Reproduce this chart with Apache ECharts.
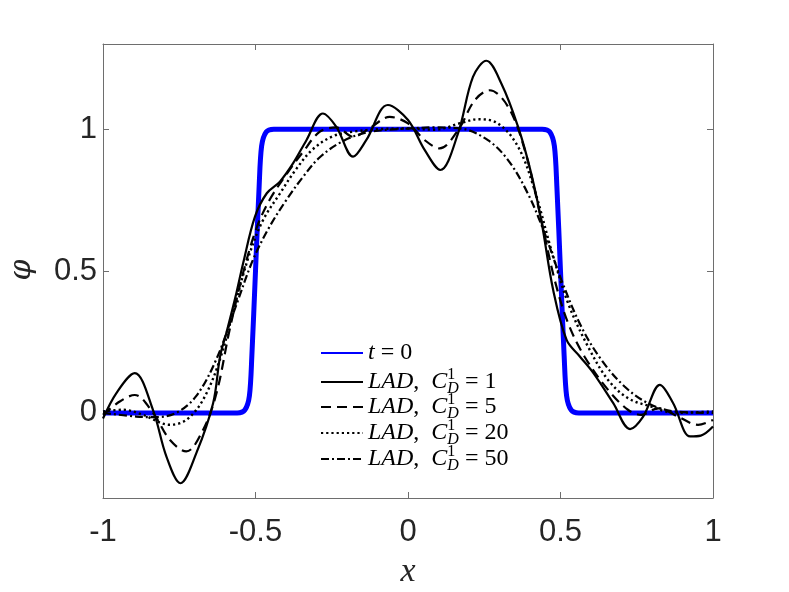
<!DOCTYPE html>
<html><head><meta charset="utf-8">
<script src="https://cdn.jsdelivr.net/npm/echarts@6/dist/echarts.min.js"></script>
<style>html,body{margin:0;padding:0;background:#fff}#c{width:789px;height:592px}</style>
</head><body><div id="c"></div>
<script>
const xTicks = [-1, -0.5, 0, 0.5, 1];
const yTicks = [0, 0.5, 1];
const seriesNames = ['t0', 'LAD1', 'LAD5', 'LAD20', 'LAD50'];
const cdValues = ['', '1', '5', '20', '50'];
const yName = 'φ';

const t0Data = [[-1,0],[-0.56,0],[-0.535,0.01],[-0.52,0.06],[-0.512,0.2],[-0.5,0.5],[-0.488,0.8],[-0.48,0.94],[-0.465,0.99],[-0.44,1],
  [0.44,1],[0.465,0.99],[0.48,0.94],[0.488,0.8],[0.5,0.5],[0.512,0.2],[0.52,0.06],[0.535,0.01],[0.56,0],[1,0]];

const lad1 = [[-1,-0.02],[-0.956,0.07],[-0.896,0.14],[-0.836,0.01],[-0.792,-0.154],[-0.746,-0.248],[-0.694,-0.142],[-0.639,0.034],
  [-0.616,0.2],[-0.596,0.28],[-0.563,0.421],[-0.54,0.53],[-0.502,0.691],[-0.463,0.774],[-0.42,0.815],[-0.377,0.879],[-0.333,0.961],
  [-0.279,1.055],[-0.235,1.008],[-0.18,0.903],[-0.137,0.961],[-0.066,1.085],[0,1.032],[0.055,0.926],[0.106,0.856],[0.164,0.985],
  [0.213,1.184],[0.257,1.241],[0.306,1.161],[0.361,1.008],[0.404,0.844],[0.438,0.672],[0.476,0.433],[0.52,0.257],[0.564,0.198],
  [0.608,0.14],[0.673,0.034],[0.728,-0.057],[0.771,-0.013],[0.826,0.099],[0.869,0.035],[0.925,-0.083],[0.96,-0.08],[1,-0.048]];

const lad5 = [[-1,-0.007],[-0.945,0.04],[-0.896,0.063],[-0.836,0],[-0.781,-0.095],[-0.727,-0.136],[-0.672,-0.06],[-0.628,0.069],
  [-0.585,0.292],[-0.541,0.492],[-0.497,0.65],[-0.454,0.75],[-0.399,0.84],[-0.344,0.92],[-0.29,0.99],[-0.235,1.006],[-0.18,0.973],
  [-0.126,1.003],[-0.06,1.043],[0,1.02],[0.055,0.961],[0.104,0.932],[0.164,0.996],[0.219,1.102],[0.268,1.137],[0.328,1.079],
  [0.383,0.926],[0.437,0.68],[0.481,0.468],[0.525,0.316],[0.579,0.198],[0.656,0.081],[0.721,0.011],[0.765,-0.007],[0.82,0.016],
  [0.885,-0.013],[0.951,-0.042],[1,-0.025]];

const lad20 = [[-1,0.005],[-0.934,0.011],[-0.869,-0.007],[-0.781,-0.042],[-0.727,-0.025],[-0.672,0.046],[-0.617,0.187],[-0.563,0.398],
  [-0.519,0.562],[-0.475,0.68],[-0.42,0.773],[-0.366,0.86],[-0.311,0.93],[-0.246,0.975],[-0.18,0.991],[-0.093,1.0],[0,1.002],
  [0.087,0.998],[0.175,1.022],[0.23,1.035],[0.295,1.02],[0.361,0.938],[0.415,0.785],[0.47,0.574],[0.525,0.386],[0.59,0.234],
  [0.656,0.116],[0.721,0.052],[0.798,0.022],[0.874,0],[1,0.005]];

const lad50 = [[-1,0],[-0.891,-0.013],[-0.825,-0.015],[-0.76,0.0],[-0.694,0.06],[-0.628,0.19],[-0.563,0.38],[-0.508,0.54],
  [-0.454,0.656],[-0.399,0.75],[-0.344,0.832],[-0.29,0.9],[-0.213,0.958],[-0.126,0.99],[0,1.002],[0.087,1.006],[0.175,1.002],
  [0.262,0.961],[0.328,0.891],[0.393,0.773],[0.448,0.633],[0.503,0.468],[0.568,0.304],[0.634,0.187],[0.71,0.093],[0.787,0.034],
  [0.874,0.005],[1,0]];

const dataList = [t0Data, lad1, lad5, lad20, lad50];
const lineColors = ['#0000ff', '#000', '#000', '#000', '#000'];
const lineWidths = [5, 2.2, 2.2, 2.4, 2.2];
const lineTypes = ['solid', 'solid', [10, 6], [2.2, 3], [8, 3, 2, 3]];

const axisColor = '#6e6e6e';
const labelColor = '#262626';
const serif = 'Liberation Serif, DejaVu Serif, serif';
const sans = 'Liberation Sans, Arial, sans-serif';

const chart = echarts.init(document.getElementById('c'));

const legendRows = [356, 382, 407, 433, 459];
const legends = seriesNames.map((n, i) => ({
  data: [n], orient: 'vertical', left: 320, top: legendRows[i] - 15, padding: 0,
  itemWidth: 42, itemHeight: 14, selectedMode: false,
  itemStyle: {opacity: 0, borderWidth: 0},
  formatter: function (name) {
    const k = seriesNames.indexOf(name);
    if (k === 0) return '{i|t}{r| = 0}';
    return '{i|LAD}{r|,  }{i|C}{sup|1}{sub|D}{r| = ' + cdValues[k] + '}';
  },
  textStyle: {
    color: '#000',
    rich: {
      i: {fontFamily: serif, fontStyle: 'italic', fontSize: 24, lineHeight: 30, verticalAlign: 'middle', color: '#000'},
      r: {fontFamily: serif, fontSize: 24, lineHeight: 30, verticalAlign: 'middle', color: '#000'},
      sup: {fontFamily: serif, fontSize: 16, lineHeight: 15, verticalAlign: 'top', width: 0, color: '#000'},
      sub: {fontFamily: serif, fontStyle: 'italic', fontSize: 16, lineHeight: 15, verticalAlign: 'bottom', color: '#000'}
    }
  }
}));

const option = {
  animation: false,
  backgroundColor: '#fff',
  grid: {left: 103, right: 76, top: 44, bottom: 94, containLabel: false, outerBoundsMode: 'none'},
  legend: legends,
  graphic: [{
    type: 'text', x: 22, y: 270, rotation: Math.PI / 2,
    style: {text: yName, font: 'italic 30px DejaVu Serif, serif', fill: labelColor, align: 'center', verticalAlign: 'middle'}
  }],
  xAxis: [{
    type: 'value', min: -1, max: 1, interval: 0.5,
    name: 'x', nameLocation: 'middle', nameGap: 57,
    nameTextStyle: {fontFamily: serif, fontStyle: 'italic', fontSize: 34, color: labelColor},
    axisLine: {show: true, onZero: false, lineStyle: {color: axisColor, width: 1}},
    axisTick: {show: true, inside: true, length: 6, lineStyle: {color: axisColor}, customValues: xTicks},
    axisLabel: {show: true, margin: 19, fontFamily: sans, fontSize: 31, color: labelColor,
      showMinLabel: true, showMaxLabel: true, customValues: xTicks},
    splitLine: {show: false}
  }, {
    type: 'value', min: -1, max: 1, interval: 0.5, position: 'top',
    axisLine: {show: true, onZero: false, lineStyle: {color: axisColor, width: 1}},
    axisTick: {show: true, inside: true, length: 6, lineStyle: {color: axisColor}, customValues: xTicks},
    axisLabel: {show: false}, splitLine: {show: false}
  }],
  yAxis: [{
    type: 'value', min: -0.3, max: 1.3,
    axisLine: {show: true, onZero: false, lineStyle: {color: axisColor, width: 1}},
    axisTick: {show: true, inside: true, length: 6, lineStyle: {color: axisColor}, customValues: yTicks},
    axisLabel: {show: true, margin: 6, fontFamily: sans, fontSize: 31, color: labelColor,
      customValues: yTicks},
    splitLine: {show: false}
  }, {
    type: 'value', min: -0.3, max: 1.3, position: 'right',
    axisLine: {show: true, onZero: false, lineStyle: {color: axisColor, width: 1}},
    axisTick: {show: true, inside: true, length: 6, lineStyle: {color: axisColor}, customValues: yTicks},
    axisLabel: {show: false}, splitLine: {show: false}
  }],
  series: seriesNames.map((n, i) => ({
    name: n, type: 'line', data: dataList[i], xAxisIndex: 0, yAxisIndex: 0,
    symbol: 'circle', showSymbol: false, smooth: i === 0 ? 0.3 : 0.35,
    lineStyle: {color: lineColors[i], width: lineWidths[i], type: lineTypes[i], cap: 'butt'},
    itemStyle: {color: lineColors[i]},
    z: i === 0 ? 2 : 3 + i,
    clip: true
  }))
};
chart.setOption(option);
</script></body></html>
